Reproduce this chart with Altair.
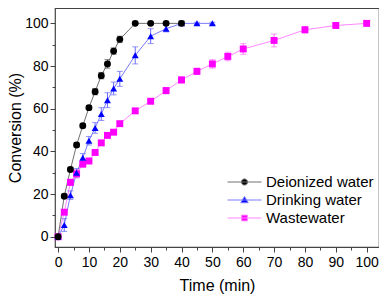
import altair as alt
import pandas as pd

FONT = "Liberation Sans"

series_names = ["Deionized water", "Drinking water", "Wastewater"]

# Deionized water
t_di = [0, 2, 4, 6, 8, 10, 12, 14, 16, 18, 20, 25, 30, 35, 40]
y_di = [0, 19, 31.5, 43, 52, 60.5, 68, 75.5, 81, 87, 92.5, 100, 100, 100, 100]
e_di = [0, 1, 1, 1, 1, 1, 1.5, 1.5, 2, 1.5, 1.5, 0.5, 0.5, 0.5, 1]

# Drinking water
t_dr = [0, 2, 4, 6, 8, 10, 12, 14, 16, 18, 20, 25, 30, 35, 40, 45, 50]
y_dr = [0, 5.5, 19.5, 30, 37, 45, 51, 57.5, 64, 69.5, 74, 85, 94, 97.5, 100, 100, 100]
e_dr = [0, 3, 2, 2, 2, 2, 2.5, 3, 3.5, 3, 3.5, 4, 3.5, 1.5, 1, 0.5, 0.5]

# Wastewater
t_ww = [0, 2, 4, 6, 8, 10, 12, 14, 16, 18, 20, 25, 30, 35, 40, 45, 50, 55, 60, 70, 80, 90, 100]
y_ww = [0, 11.5, 25.5, 29.5, 34, 35.5, 39.5, 44, 47.5, 49, 53, 59, 63.5, 68.5, 73.5, 77.5, 81, 84.5, 88, 92, 97, 99, 100]
e_ww = [0, 1, 1.5, 2, 1, 1, 1, 1, 1, 1, 1, 1, 1, 1.5, 1.5, 1.5, 2, 2, 2.5, 3, 1.5, 1, 0.5]

x_ticks = list(range(0, 101, 5))
y_ticks = list(range(0, 101, 10))

marker_colors = ["#000000", "#0000ff", "#ff00ff"]
line_colors = ["#707070", "#7a7aff", "#ff88ff"]
err_colors = ["#505050", "#6a6aff", "#ff70ff"]
shapes = ["circle", "triangle-up", "square"]

legend_paths = [
    "M-1,0L1,0M0.18,0A0.18,0.18 0 1 1 -0.18,0A0.18,0.18 0 1 1 0.18,0Z",
    "M-1,0L1,0M0,-0.2L0.22,0.16L-0.22,0.16Z",
    "M-1,0L1,0M-0.17,-0.17L0.17,-0.17L0.17,0.17L-0.17,0.17Z",
]

def make_df(t, y, e, name):
    return pd.DataFrame({
        "t": t, "y": y,
        "lo": [a - b for a, b in zip(y, e)],
        "hi": [a + b for a, b in zip(y, e)],
        "series": name,
    })

dfs = [make_df(t_di, y_di, e_di, series_names[0]),
       make_df(t_dr, y_dr, e_dr, series_names[1]),
       make_df(t_ww, y_ww, e_ww, series_names[2])]

x_scale = alt.Scale(domain=[-1, 104], nice=False, zero=False)
y_scale = alt.Scale(domain=[-4.8, 107.2], nice=False, zero=False)

x_axis = alt.Axis(
    values=x_ticks,
    labelExpr="datum.value % 10 === 0 ? datum.label : ''",
    tickSize={"condition": {"test": "datum.value % 10 === 0", "value": 5}, "value": 3},
    labelOverlap=False, labelFlush=False, domain=False, grid=False,
    labelPadding=3, titlePadding=8,
)
y_axis = alt.Axis(
    values=y_ticks,
    labelExpr="datum.value % 20 === 0 ? datum.label : ''",
    tickSize={"condition": {"test": "datum.value % 20 === 0", "value": 5}, "value": 3},
    labelOverlap=False, labelFlush=False, domain=False, grid=False,
    labelPadding=2, titlePadding=1,
)

def X(field):
    return alt.X(f"{field}:Q", scale=x_scale, axis=x_axis, title="Time (min)")

def Y(field):
    return alt.Y(f"{field}:Q", scale=y_scale, axis=y_axis, title="Conversion (%)")

layers = []
order = [2, 1, 0]
for i in order:
    d = dfs[i]
    layers.append(alt.Chart(d).mark_line(color=line_colors[i], strokeWidth=1).encode(
        x=X("t"), y=Y("y")))
for i in order:
    d = dfs[i]
    layers.append(alt.Chart(d).mark_errorbar(ticks=True, size=6, thickness=1, color=err_colors[i]).encode(
        x=X("t"), y=Y("lo"), y2="hi"))
for i in order:
    d = dfs[i]
    layers.append(alt.Chart(d).mark_point(filled=True, shape=shapes[i], size=48, opacity=1,
                                          color=marker_colors[i]).encode(
        x=X("t"), y=Y("y")))

legend_df = pd.DataFrame({"series": series_names})
legend_layer = alt.Chart(legend_df).transform_filter("false").mark_point(opacity=1).encode(
    shape=alt.Shape("series:N", scale=alt.Scale(domain=series_names, range=legend_paths), title=None),
    fill=alt.Fill("series:N", scale=alt.Scale(domain=series_names, range=marker_colors), title=None),
    stroke=alt.Stroke("series:N", scale=alt.Scale(domain=series_names, range=line_colors), title=None),
)
layers.append(legend_layer)

chart = alt.layer(*layers).properties(
    width=324, height=239,
    autosize=alt.AutoSizeParams(type="none"),
    padding={"left": 47, "top": 0, "right": 0, "bottom": 51},
).configure_view(
    stroke="#444444", strokeWidth=1.2,
).configure_axis(
    labelFont=FONT, labelFontSize=14, labelColor="#000000",
    titleFont=FONT, titleFontSize=16, titleColor="#000000", titleFontWeight="normal",
    tickColor="#444444", tickWidth=1,
).configure_legend(
    orient="none", legendX=172, legendY=166,
    symbolSize=1156, symbolStrokeWidth=1, clipHeight=16, rowPadding=2,
    labelFont=FONT, labelFontSize=15, labelColor="#000000", labelOffset=4,
    padding=0,
)

chart.save("out.html", embed_options={"renderer": "svg", "actions": False})
